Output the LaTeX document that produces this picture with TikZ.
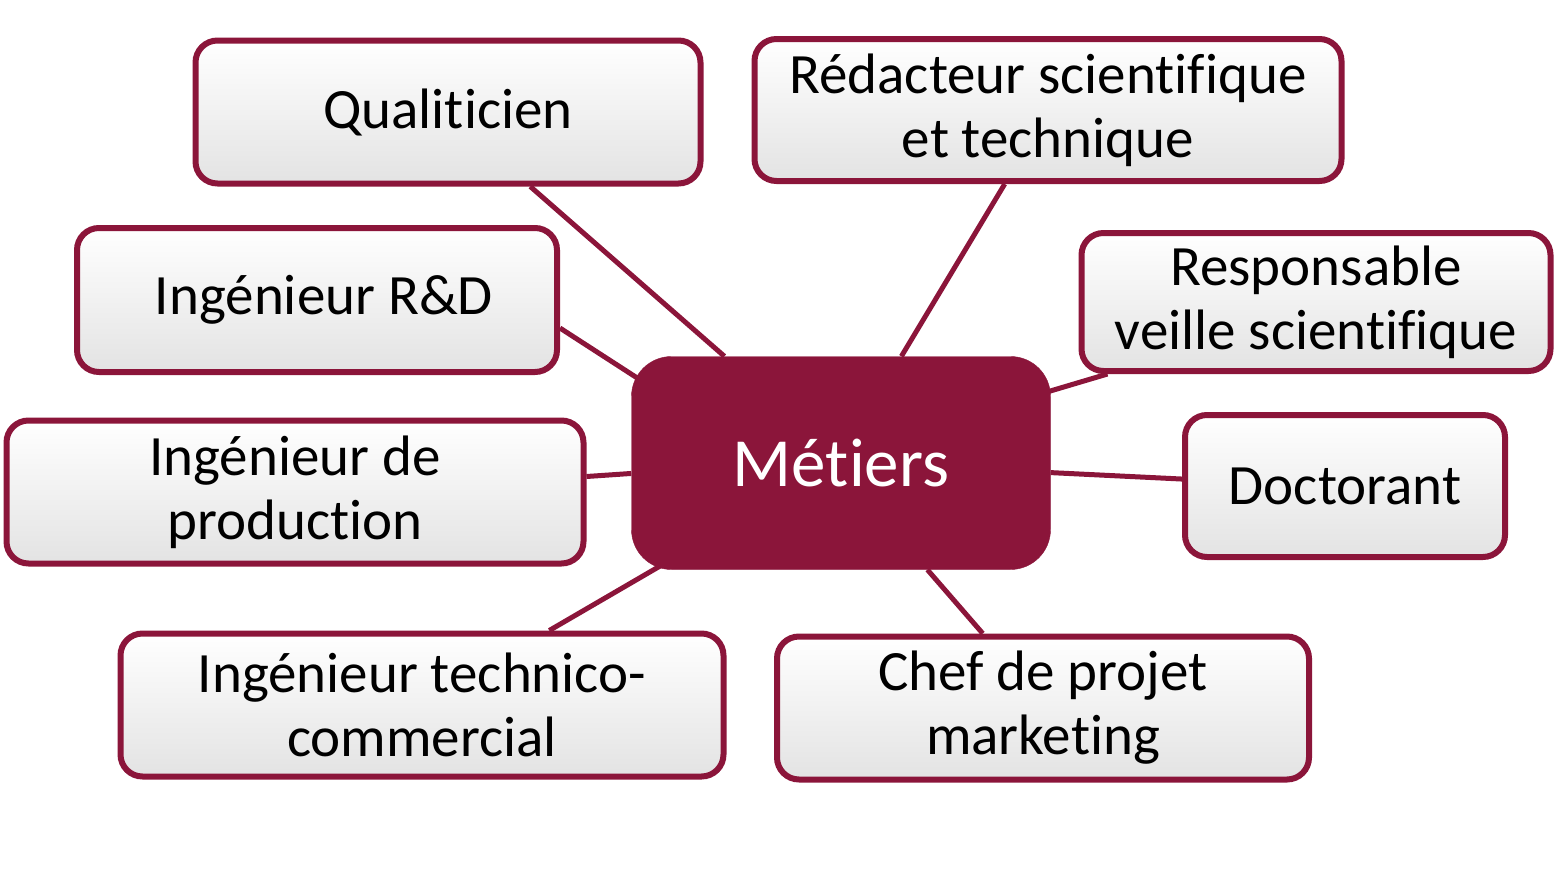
\documentclass[tikz,border=0pt]{standalone}
\usepackage{fontspec}
\setmainfont[Ligatures=NoCommon]{Carlito}
\usetikzlibrary{calc,backgrounds}
\definecolor{bord}{HTML}{8B153A}
\begin{document}
\begin{tikzpicture}[x=1pt,y=-1pt,
 leaf/.style={draw=bord,line width=6pt,rounded corners=22pt,top color=white,middle color=white,bottom color=black!11,inner sep=0pt,align=center,font=\fontsize{57}{64}\selectfont},
 hub/.style={fill=bord,draw=bord,rounded corners=40pt,text=white,font=\fontsize{69}{80}\selectfont,minimum width=419pt,minimum height=213pt,inner sep=0pt},
 link/.style={draw=bord,line width=5pt}]
\useasboundingbox (0,0) rectangle (1556,889);
\node[hub] (met) at (841,463) {Métiers};
\node[leaf,minimum width=505pt,minimum height=143pt] (qual) at (448,112) {Qualiticien};
\node[leaf,minimum width=587pt,minimum height=142pt] (red) at (1048,110) {Rédacteur scientifique\\et technique};
\node[leaf,minimum width=480pt,minimum height=144pt] (rd) at (317,300) {\hspace{14pt}Ingénieur R\&D};
\node[leaf,minimum width=469pt,minimum height=138pt] (resp) at (1316,302) {Responsable\\veille scientifique};
\node[leaf,minimum width=577pt,minimum height=143pt] (prod) at (295,492) {Ingénieur de\\production};
\node[leaf,minimum width=320pt,minimum height=142pt] (doc) at (1345,486) {Doctorant};
\node[leaf,minimum width=603pt,minimum height=143pt] (tech) at (422,705) {Ingénieur technico-\\commercial};
\node[leaf,minimum width=532pt,minimum height=143pt] (chef) at (1043,708) {Chef de projet\\marketing};
\begin{pgfonlayer}{background}
\draw[link] ($(qual.south west)!0.661!(qual.south east)$) -- ($(met.north west)!0.222!(met.north east)$);
\draw[link] ($(red.south west)!0.427!(red.south east)$) -- ($(met.north west)!0.644!(met.north east)$);
\draw[link] ($(rd.north east)!0.687!(rd.south east)$) -- ($(met.north west)!0.12!(met.south west)+(12,0)$);
\draw[link] ($(resp.south west)!0.061!(resp.south east)$) -- ($(met.north east)!0.169!(met.south east)+(-5,0)$);
\draw[link] ($(prod.north east)!0.396!(prod.south east)$) -- ($(met.north west)!0.549!(met.south west)$);
\draw[link] ($(doc.north west)!0.453!(doc.south west)$) -- ($(met.north east)!0.545!(met.south east)$);
\draw[link] ($(tech.north west)!0.709!(tech.north east)$) -- ($(met.south west)!0.074!(met.south east)+(0,-5)$);
\draw[link] ($(chef.north west)!0.388!(chef.north east)$) -- ($(met.south west)!0.706!(met.south east)$);
\end{pgfonlayer}
\end{tikzpicture}
\end{document}
